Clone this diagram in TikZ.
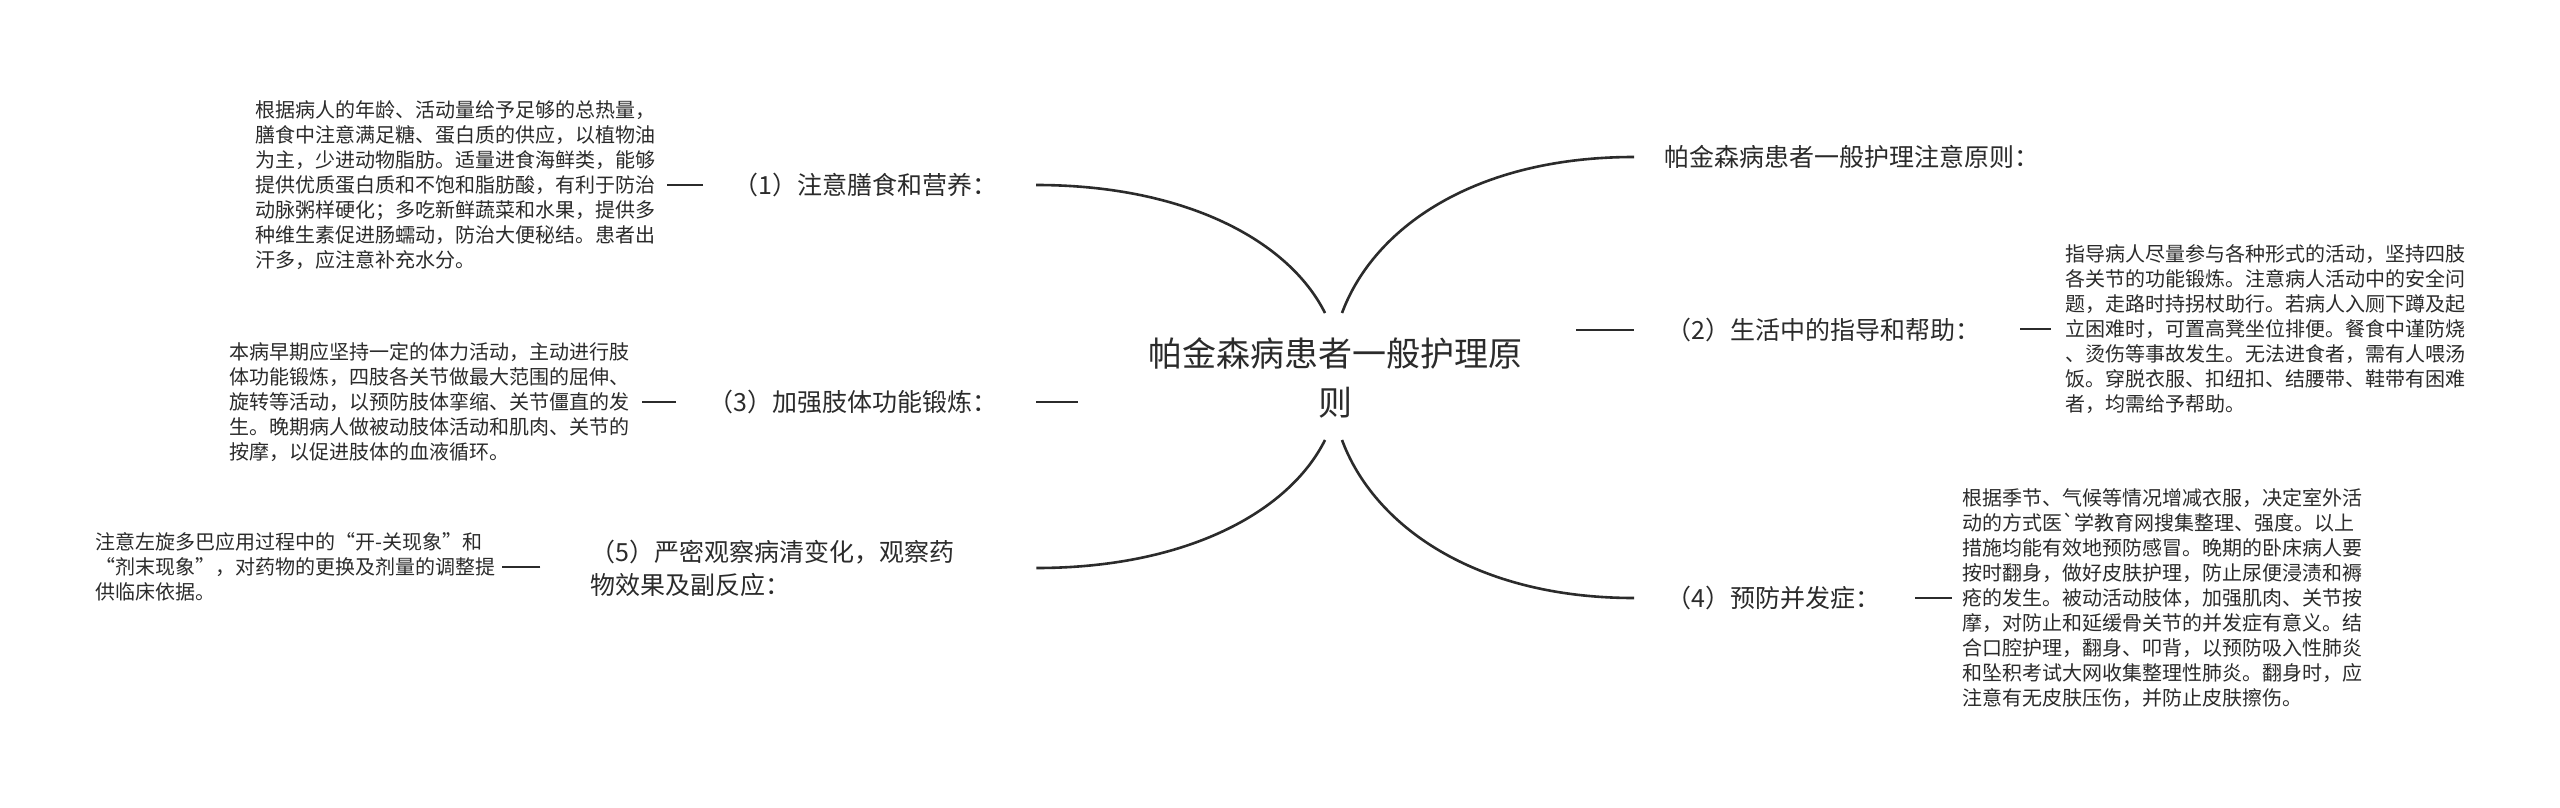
\documentclass[tikz,border=0pt]{standalone}
\usepackage{fontspec}
\newfontfamily\cjk{Noto Sans CJK SC}
\definecolor{ink}{HTML}{2B2B2B}
\begin{document}
\begin{tikzpicture}[x=1pt,y=-1pt,
  conn/.style={draw=ink, line width=2.6pt},
  ctr/.style={font=\cjk\fontsize{34}{49}\selectfont, text=ink, inner sep=0pt, align=center},
  lab/.style={font=\cjk\fontsize{25}{33}\selectfont, text=ink, inner sep=0pt},
  det/.style={font=\cjk\fontsize{20}{25}\selectfont, text=ink, inner sep=0pt, align=left}]
\fill[white] (0,0) rectangle (2560,808);
\useasboundingbox (0,0) rectangle (2560,808);

% central topic
\node[ctr] (c) at (1335,377.5) {帕金森病患者一般护理原\\则};

% right side
\node[lab, anchor=west] (t0) at (1664,157) {帕金森病患者一般护理注意原则：};
\node[lab, anchor=west] (lab2) at (1666,330) {（2）生活中的指导和帮助：};
\node[lab, anchor=west] (lab4) at (1666,598) {（4）预防并发症：};
\node[det, anchor=west] (det2) at (2065,329) {指导病人尽量参与各种形式的活动，坚持四肢\\各关节的功能锻炼。注意病人活动中的安全问\\题，走路时持拐杖助行。若病人入厕下蹲及起\\立困难时，可置高凳坐位排便。餐食中谨防烧\\、烫伤等事故发生。无法进食者，需有人喂汤\\饭。穿脱衣服、扣纽扣、结腰带、鞋带有困难\\者，均需给予帮助。};
\node[det, anchor=west] (det4) at (1962,598) {根据季节、气候等情况增减衣服，决定室外活\\动的方式医`学教育网搜集整理、强度。以上\\措施均能有效地预防感冒。晚期的卧床病人要\\按时翻身，做好皮肤护理，防止尿便浸渍和褥\\疮的发生。被动活动肢体，加强肌肉、关节按\\摩，对防止和延缓骨关节的并发症有意义。结\\合口腔护理，翻身、叩背，以预防吸入性肺炎\\和坠积考试大网收集整理性肺炎。翻身时，应\\注意有无皮肤压伤，并防止皮肤擦伤。};

% left side
\node[lab, anchor=east] (lab1) at (998,185) {（1）注意膳食和营养：};
\node[lab, anchor=east] (lab3) at (998,402) {（3）加强肢体功能锻炼：};
\node[lab, anchor=west, text width=410pt, align=left] (lab5) at (590,568) {（5）严密观察病清变化，观察药\\物效果及副反应：};
\node[det, anchor=east] (det1) at (656,185) {根据病人的年龄、活动量给予足够的总热量，\\膳食中注意满足糖、蛋白质的供应，以植物油\\为主，少进动物脂肪。适量进食海鲜类，能够\\提供优质蛋白质和不饱和脂肪酸，有利于防治\\动脉粥样硬化；多吃新鲜蔬菜和水果，提供多\\种维生素促进肠蠕动，防治大便秘结。患者出\\汗多，应注意补充水分。};
\node[det, anchor=east] (det3) at (630,402) {本病早期应坚持一定的体力活动，主动进行肢\\体功能锻炼，四肢各关节做最大范围的屈伸、\\旋转等活动，以预防肢体挛缩、关节僵直的发\\生。晚期病人做被动肢体活动和肌肉、关节的\\按摩，以促进肢体的血液循环。};
\node[det, anchor=west] (det5) at (95,567) {注意左旋多巴应用过程中的“开-关现象”和\\“剂末现象”，对药物的更换及剂量的调整提\\供临床依据。};

% curved connectors from the centre
\draw[conn] ([shift={(7pt,64.5pt)}]c.center) .. controls +(31.5,-85) and +(-160,0) .. ([xshift=-30pt]t0.west);
\draw[conn] ([shift={(7pt,-62.5pt)}]c.center) .. controls +(31.5,85) and +(-160,0) .. ([xshift=-32pt]lab4.west);
\draw[conn] ([shift={(-10pt,64.5pt)}]c.center) .. controls +(-36,-72) and +(150,0) .. ([xshift=38pt]lab1.east);
\draw[conn] ([shift={(-10pt,-62.5pt)}]c.center) .. controls +(-36,72) and +(150,0) .. ([xshift=36pt]lab5.east);

% straight connectors
\draw[conn] ([xshift=-90pt]lab2.west) -- ([xshift=-32pt]lab2.west);
\draw[conn] ([xshift=38pt]lab3.east) -- ([xshift=80pt]lab3.east);

% label to detail connectors
\draw[conn] ([xshift=47pt]det1.east) -- ([xshift=11pt]det1.east);
\draw[conn] ([xshift=46pt]det3.east) -- ([xshift=12pt]det3.east);
\draw[conn] ([xshift=45pt]det5.east) -- ([xshift=7pt]det5.east);
\draw[conn] ([xshift=-45pt]det2.west) -- ([xshift=-14pt]det2.west);
\draw[conn] ([xshift=-47pt]det4.west) -- ([xshift=-10pt]det4.west);
\end{tikzpicture}
\end{document}
